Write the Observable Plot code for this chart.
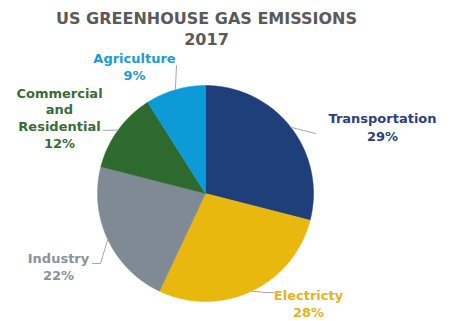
<!DOCTYPE html>
<html><head><meta charset="utf-8">
<script src="https://cdn.jsdelivr.net/npm/d3@7"></script>
<script src="https://cdn.jsdelivr.net/npm/@observablehq/plot@0.6"></script>
<style>body{margin:0;background:#fff}</style>
</head><body><div id="chart"></div>
<script>
// ---- data ----
const titleLines = ["US GREENHOUSE GAS EMISSIONS", "2017"];
const categories = ["Transportation", "Electricty", "Industry", "Commercial and Residential", "Agriculture"];
const nameLines = [["Transportation"], ["Electricty"], ["Industry"], ["Commercial", "and", "Residential"], ["Agriculture"]];
const shares = [29, 28, 22, 12, 9];

// ---- styles & layout (pixels) ----
const sliceColors = ["#1f3f7a", "#e9b80f", "#7f8a94", "#2e6a2e", "#0d9bd8"];
const textColors = ["#2c3f7c", "#e4b41a", "#8a939b", "#3d6a3a", "#1c9bd6"];
const W = 455, H = 321, cx = 205, cy = 193, R = 108;
const labelLayout = [
  {x: 382, y: 118, step: 18, leader: [[315, 133]]},
  {x: 308, y: 295, step: 17, leader: [[265, 292], [273, 292]]},
  {x: 58, y: 258, step: 17, leader: [[100, 263], [92, 263]]},
  {x: 59, y: 93, step: 16.7, leader: [[103, 130]]},
  {x: 134, y: 58, step: 17, leader: [[176, 65]]}
];
const font = "DejaVu Sans, Verdana, sans-serif";

// ---- geometry from data ----
const arcs = d3.pie().sort(null).value(d => d)(shares);
const px = a => cx + R * Math.sin(a), py = a => cy - R * Math.cos(a);
const slicePts = [];
arcs.forEach((a, i) => {
  const cat = categories[i];
  slicePts.push({cat, x: cx, y: cy});
  const n = Math.max(2, Math.ceil((a.endAngle - a.startAngle) / (Math.PI / 360)));
  for (let k = 0; k <= n; k++) {
    const t = a.startAngle + (a.endAngle - a.startAngle) * k / n;
    slicePts.push({cat, x: px(t), y: py(t)});
  }
  slicePts.push({cat, x: cx, y: cy});
});
const leaderPts = [];
arcs.forEach((a, i) => {
  const m = (a.startAngle + a.endAngle) / 2;
  leaderPts.push({cat: categories[i], x: px(m), y: py(m)});
  labelLayout[i].leader.forEach(([x, y]) => leaderPts.push({cat: categories[i], x, y}));
});
const textMarks = [];
categories.forEach((c, i) => {
  const L = labelLayout[i];
  const rows = [...nameLines[i], shares[i] + "%"].map((t, k) => ({t, x: L.x, y: L.y + k * L.step}));
  textMarks.push(Plot.text(rows, {x: "x", y: "y", text: "t", fill: textColors[i], fontSize: 13, fontWeight: "bold", fontFamily: font}));
});
const titleRows = titleLines.map((t, k) => ({t, x: 206, y: 18 + k * 21}));

const chart = Plot.plot({
  width: W, height: H, margin: 0,
  x: {domain: [0, W], range: [0, W], axis: null},
  y: {domain: [0, H], range: [0, H], axis: null},
  color: {domain: categories, range: sliceColors},
  marks: [
    Plot.line(slicePts, {x: "x", y: "y", z: "cat", fill: "cat", stroke: "cat", strokeWidth: 0.5}),
    Plot.line(leaderPts, {x: "x", y: "y", z: "cat", stroke: "#a8a8a8", strokeWidth: 1}),
    Plot.text(titleRows, {x: "x", y: "y", text: "t", fill: "#5a5a5a", fontSize: 16, fontWeight: "bold", fontFamily: font}),
    ...textMarks
  ]
});
document.getElementById("chart").appendChild(chart);
</script>
</body></html>
